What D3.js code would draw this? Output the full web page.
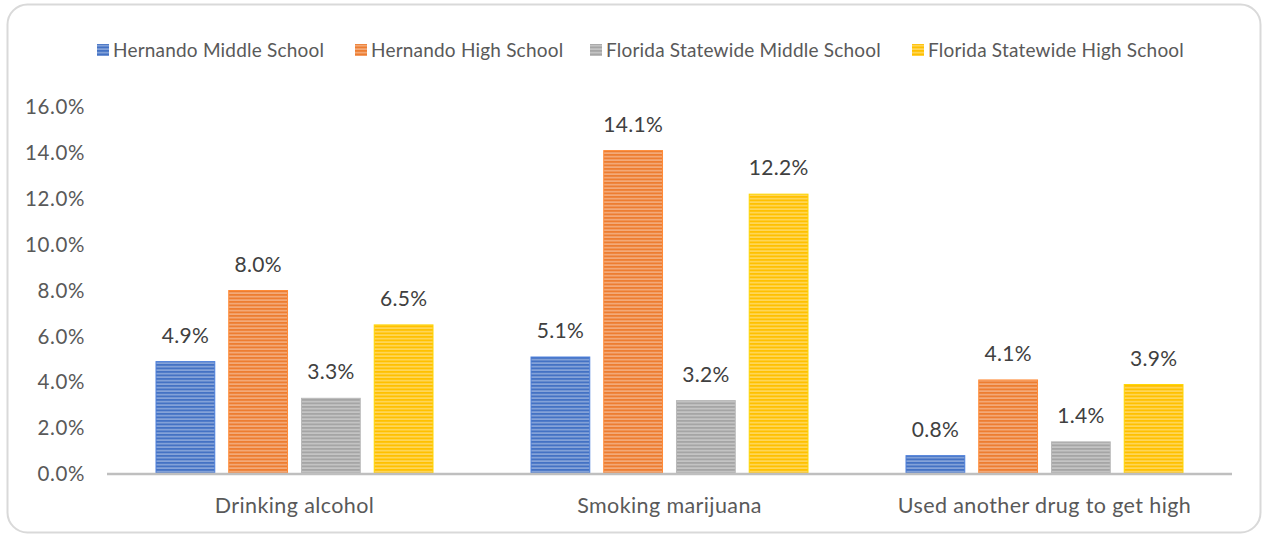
<!DOCTYPE html>
<html>
<head>
<meta charset="utf-8">
<script src="https://cdn.jsdelivr.net/npm/d3@7/dist/d3.min.js"></script>
<style>
  html, body { margin: 0; padding: 0; background: #fff; }
  svg { display: block; font-family: Lato, "Liberation Sans", sans-serif; }
</style>
</head>
<body>
<svg id="chart" width="1265" height="537"></svg>
<script>
// Substance use rates by school level
const categories = ["Drinking alcohol", "Smoking marijuana", "Used another drug to get high"];
const seriesNames = ["Hernando Middle School", "Hernando High School", "Florida Statewide Middle School", "Florida Statewide High School"];
const hernandoMiddle = [4.9, 5.1, 0.8];
const hernandoHigh = [8.0, 14.1, 4.1];
const statewideMiddle = [3.3, 3.2, 1.4];
const statewideHigh = [6.5, 12.2, 3.9];
const yTicks = [0, 2, 4, 6, 8, 10, 12, 14, 16];
const seriesColors = ["#4472C4", "#ED7D31", "#A5A5A5", "#FFC000"];

const seriesValues = [hernandoMiddle, hernandoHigh, statewideMiddle, statewideHigh];

const svg = d3.select("#chart");
const W = 1265, H = 537;

// outer frame
svg.append("rect")
  .attr("x", 7.5).attr("y", 4.5)
  .attr("width", W - 12).attr("height", H - 9)
  .attr("rx", 20).attr("ry", 20)
  .attr("fill", "#fff").attr("stroke", "#d9d9d9").attr("stroke-width", 2);

// striped fills
const defs = svg.append("defs");
seriesColors.forEach((c, i) => {
  const p = defs.append("pattern")
    .attr("id", "stripe" + i)
    .attr("patternUnits", "userSpaceOnUse")
    .attr("width", 8).attr("height", 3.5);
  p.append("rect").attr("width", 8).attr("height", 3.5).attr("fill", c);
  p.append("rect").attr("y", 2).attr("width", 8).attr("height", 1.3)
    .attr("fill", "#fff").attr("opacity", 0.45);
});

const plot = { left: 107, right: 1232, top: 107, bottom: 474 };

const x0 = d3.scaleBand().domain(categories).range([plot.left, plot.right]).padding(0);
const x1 = d3.scaleBand().domain(d3.range(4))
  .range([49, x0.bandwidth() - 49]).paddingInner(0.192).paddingOuter(0);
const y = d3.scaleLinear().domain([0, 16]).range([plot.bottom, plot.top]);

// y tick labels
svg.append("g").selectAll("text").data(yTicks).join("text")
  .attr("x", 85).attr("y", d => y(d))
  .attr("dy", "0.35em")
  .attr("text-anchor", "end")
  .attr("font-size", 20.5)
  .attr("letter-spacing", 0.6)
  .attr("fill", "#595959")
  .text(d => d3.format(".1f")(d) + "%");

// bars
const groups = svg.append("g").selectAll("g").data(categories).join("g")
  .attr("transform", d => `translate(${x0(d)},0)`);

groups.each(function (cat, ci) {
  const g = d3.select(this);
  seriesValues.forEach((vals, si) => {
    const v = vals[ci];
    g.append("rect")
      .attr("x", x1(si)).attr("y", y(v))
      .attr("width", x1.bandwidth()).attr("height", y(0) - y(v))
      .attr("fill", `url(#stripe${si})`)
      .attr("stroke", d3.color(seriesColors[si]).brighter(0.3))
      .attr("stroke-width", 1);
    g.append("text")
      .attr("x", x1(si) + x1.bandwidth() / 2)
      .attr("y", y(v) - 19)
      .attr("text-anchor", "middle")
      .attr("font-size", 21)
      .attr("letter-spacing", 0.3)
      .attr("fill", "#404040")
      .text(d3.format(".1f")(v) + "%");
  });
});

// baseline
svg.append("line")
  .attr("x1", plot.left).attr("x2", plot.right)
  .attr("y1", y(0)).attr("y2", y(0))
  .attr("stroke", "#bfbfbf").attr("stroke-width", 2.5);

// category labels
svg.append("g").selectAll("text").data(categories).join("text")
  .attr("x", d => x0(d) + x0.bandwidth() / 2)
  .attr("y", 505).attr("dy", "0.35em")
  .attr("text-anchor", "middle")
  .attr("font-size", 21.5)
  .attr("letter-spacing", 0.4)
  .attr("fill", "#595959")
  .text(d => d);

// legend
const legendX = [97, 355, 590, 912];
const legend = svg.append("g").selectAll("g").data(seriesNames).join("g")
  .attr("transform", (d, i) => `translate(${legendX[i]},50)`);
legend.append("rect")
  .attr("x", 0).attr("y", -6).attr("width", 12).attr("height", 12)
  .attr("fill", (d, i) => `url(#stripe${i})`);
legend.append("text")
  .attr("x", 16).attr("dy", "0.35em")
  .attr("font-size", 19)
  .attr("letter-spacing", 0.2)
  .attr("fill", "#595959")
  .text(d => d);
</script>
</body>
</html>
